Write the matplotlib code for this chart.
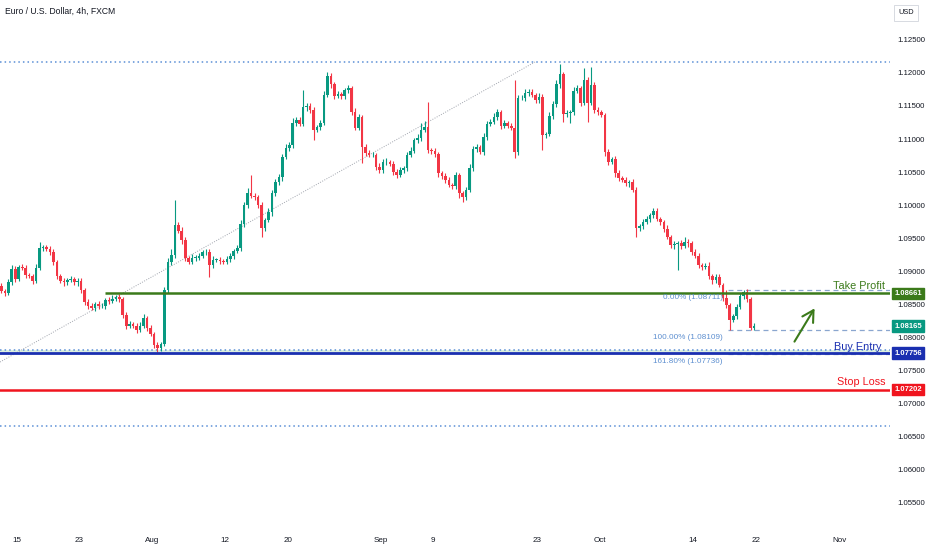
import matplotlib
matplotlib.use("Agg")
import matplotlib.pyplot as plt
from matplotlib import transforms

plt.rcParams['font.family'] = ['Liberation Sans', 'DejaVu Sans']

# ---------------- data ----------------
# x unit = trading day, 0 = Jul 15; three candles per day, first candle starts Jul 11 (2nd third)
start_day = -1.6667
per_day = 3

closes = [
    1.0870, 1.0867, 1.0883, 1.0903, 1.0888, 1.0906, 1.0905, 1.0894, 1.0892, 1.0885,
    1.0905, 1.0935, 1.0936, 1.0933, 1.0929, 1.0914, 1.0892, 1.0885, 1.0883, 1.0886,
    1.0888, 1.0883, 1.0885, 1.0871, 1.0853, 1.0847, 1.0844, 1.0850, 1.0847, 1.0847,
    1.0856, 1.0855, 1.0858, 1.0861, 1.0858, 1.0833, 1.0817, 1.0820, 1.0817, 1.0811,
    1.0817, 1.0829, 1.0814, 1.0805, 1.0788, 1.0783, 1.0789, 1.0871, 1.0914, 1.0924,
    1.0970, 1.0961, 1.0947, 1.0920, 1.0914, 1.0920, 1.0920, 1.0923, 1.0929, 1.0929,
    1.0909, 1.0917, 1.0917, 1.0915, 1.0914, 1.0918, 1.0923, 1.0930, 1.0935, 1.0971,
    1.1000, 1.1018, 1.1014, 1.1012, 1.1000, 1.0965, 1.0977, 1.0989, 1.1018, 1.1035,
    1.1042, 1.1073, 1.1086, 1.1091, 1.1124, 1.1129, 1.1123, 1.1148, 1.1150, 1.1144,
    1.1114, 1.1118, 1.1124, 1.1167, 1.1195, 1.1183, 1.1165, 1.1168, 1.1165, 1.1174,
    1.1177, 1.1141, 1.1117, 1.1133, 1.1088, 1.1079, 1.1076, 1.1076, 1.1058, 1.1053,
    1.1065, 1.1065, 1.1062, 1.1050, 1.1045, 1.1053, 1.1056, 1.1076, 1.1082, 1.1098,
    1.1102, 1.1114, 1.1118, 1.1083, 1.1082, 1.1077, 1.1048, 1.1044, 1.1038, 1.1030,
    1.1029, 1.1045, 1.1018, 1.1012, 1.1023, 1.1056, 1.1085, 1.1088, 1.1080, 1.1103,
    1.1123, 1.1126, 1.1133, 1.1141, 1.1120, 1.1124, 1.1120, 1.1117, 1.1080, 1.1162,
    1.1162, 1.1170, 1.1171, 1.1167, 1.1159, 1.1164, 1.1106, 1.1108, 1.1135, 1.1153,
    1.1183, 1.1198, 1.1138, 1.1139, 1.1141, 1.1173, 1.1177, 1.1155, 1.1189, 1.1155,
    1.1182, 1.1144, 1.1141, 1.1136, 1.1080, 1.1065, 1.1070, 1.1048, 1.1041, 1.1038,
    1.1033, 1.1035, 1.1023, 1.0965, 1.0968, 1.0974, 1.0979, 1.0985, 1.0991, 1.0979,
    1.0974, 1.0964, 1.0952, 1.0939, 1.0941, 1.0942, 1.0938, 1.0944, 1.0942, 1.0929,
    1.0923, 1.0909, 1.0906, 1.0908, 1.0892, 1.0886, 1.0891, 1.0879, 1.0859, 1.0848,
    1.0826, 1.0832, 1.0845, 1.0862, 1.0868, 1.0858, 1.0814, 1.08165,
]
first_open = 1.0878

# wick lengths in pips above max(open, close) / below min(open, close)
upper_wick = [
    4, 3, 5, 6, 4, 3, 5, 4, 3, 4,   5, 9, 4, 3, 5, 4, 3, 4, 5, 3,
    4, 3, 5, 4, 3, 5, 4, 3, 4, 5,   3, 4, 5, 3, 4, 3, 5, 4, 3, 4,
    5, 6, 3, 4, 3, 4, 3, 5, 6, 10,  38, 5, 5, 4, 3, 6, 4, 5, 3, 4,
    4, 5, 3, 4, 3, 4, 5, 3, 4, 6,   5, 8, 27, 4, 3, 5, 4, 6, 5, 4,
    5, 4, 6, 5, 8, 4, 5, 26, 4, 5,  4, 3, 5, 6, 7, 5, 4, 5, 3, 4,
    5, 4, 6, 5, 3, 4, 5, 4, 3, 5,   4, 6, 3, 4, 5, 4, 3, 5, 6, 4,
    5, 10, 10, 38, 4, 5, 3, 4, 5, 4, 3, 5, 4, 3, 5, 6, 4, 5, 3, 6,
    4, 5, 6, 4, 3, 5, 4, 5, 72, 5,  4, 6, 5, 4, 3, 5, 4, 3, 6, 5,
    6, 16, 4, 5, 3, 6, 5, 4, 19, 5, 27, 4, 5, 3, 4, 5, 3, 4, 5, 3,
    4, 3, 5, 4, 3, 5, 4, 3, 4, 5,   3, 4, 5, 3, 4, 3, 5, 8, 4, 3,
    4, 5, 3, 4, 5, 3, 4, 5, 3, 12,  4, 3, 5, 4, 3, 5, 3, 4,
]
lower_wick = [
    4, 5, 3, 4, 5, 3, 4, 5, 3, 4,   3, 4, 5, 3, 4, 5, 4, 3, 5, 4,
    3, 4, 5, 4, 5, 4, 3, 5, 4, 3,   4, 5, 3, 4, 5, 4, 5, 3, 4, 5,
    4, 3, 5, 4, 5, 5, 4, 3, 4, 5,   4, 3, 6, 5, 4, 3, 5, 4, 3, 4,
    18, 4, 3, 5, 4, 3, 4, 5, 3, 4,  5, 4, 3, 5, 4, 13, 4, 3, 5, 4,
    4, 5, 3, 4, 5, 4, 3, 4, 5, 4,   16, 4, 5, 3, 4, 5, 4, 3, 5, 4,
    4, 5, 4, 3, 25, 5, 4, 3, 5, 4,  5, 4, 3, 5, 4, 3, 4, 5, 4, 3,
    4, 5, 3, 4, 5, 4, 6, 5, 4, 3,   5, 4, 8, 7, 4, 3, 5, 4, 3, 4,
    5, 4, 3, 4, 5, 4, 3, 4, 9, 4,   3, 4, 5, 3, 4, 5, 23, 4, 3, 4,
    4, 5, 12, 4, 14, 4, 3, 5, 4, 29, 4, 5, 4, 3, 5, 4, 3, 5, 4, 3,
    4, 5, 3, 13, 4, 4, 3, 5, 4, 3,  4, 5, 3, 4, 5, 40, 4, 3, 5, 4,
    3, 4, 5, 3, 4, 5, 4, 3, 5, 4,   15, 4, 5, 3, 4, 5, 3, 3,
]

# date ticks (trading-day index) and labels
tick_days = [0, 6, 13, 20, 26, 35, 40, 50, 56, 65, 71, 79]
tick_labels = ['15', '23', 'Aug', '12', '20', 'Sep', '9', '23', 'Oct', '14', '22', 'Nov']
price_ticks = [1.055, 1.060, 1.065, 1.070, 1.075, 1.080, 1.085, 1.090, 1.095,
               1.100, 1.105, 1.110, 1.115, 1.120, 1.125]

# levels
take_profit = 1.08661
buy_entry = 1.07756
stop_loss = 1.07202
last_price = 1.08165
resist_top = 1.12165
support_low = 1.0665
support_zone = 1.0780
fib_levels = [1.08711, 1.08109, 1.07736]
fib_names = ['0.00% (1.08711)', '100.00% (1.08109)', '161.80% (1.07736)']
trend_start = (-1.634, 1.07621)
trend_end = (49.78, 1.12167)
arrow_from = (74.58, 1.07894)
arrow_to = (76.79, 1.08470)

# ---------------- colors ----------------
UP = '#089981'
DOWN = '#f23645'
GREEN = '#3b7a1a'
BLUE = '#1a2fb0'
RED = '#f0141e'
DOTBLUE = '#5b8fd6'
FIBCOL = '#5d8fd0'
TXT = '#131722'

fig = plt.figure(figsize=(9.32, 5.5), dpi=100)
ax = fig.add_axes([0, 20 / 550, 890 / 932, 530 / 550])
ax.set_xlim(-1.634, 83.9)
ax.set_ylim(1.05076, 1.13106)

# ---------------- candles ----------------
opens = [first_open] + closes[:-1]
xs = [start_day + (i + 0.5) / per_day for i in range(len(closes))]
for x, o, c, uw, lw_ in zip(xs, opens, closes, upper_wick, lower_wick):
    col = UP if c >= o else DOWN
    hi = max(o, c) + uw / 10000
    lo = min(o, c) - lw_ / 10000
    ax.vlines(x, lo, hi, color=col, lw=0.8, zorder=3)
    ax.bar(x, max(abs(c - o), 0.00005), bottom=min(o, c), width=0.25,
           color=col, linewidth=0, zorder=4)

# ---------------- horizontal levels ----------------
ax.axhline(resist_top, color=DOTBLUE, lw=1.1, ls=(0, (1, 2)), zorder=2)
ax.axhline(support_low, color=DOTBLUE, lw=1.1, ls=(0, (1, 2)), zorder=2)
ax.axhspan(buy_entry + 0.0001, support_zone, color='#dcefe0', lw=0, zorder=1)
ax.axhline(support_zone, color=DOTBLUE, lw=1.1, ls=(0, (1, 2)), zorder=2)
ax.hlines(take_profit, 8.46, 83.9, color=GREEN, lw=1.8, zorder=5)
ax.axhline(buy_entry, color=BLUE, lw=2.0, zorder=5)
ax.axhline(stop_loss, color=RED, lw=1.8, zorder=5)

# fib retracement
for lvl, name in zip(fib_levels, fib_names):
    ax.hlines(lvl, 68.33, 83.9, color='#8aa6cf', lw=0.9, ls=(0, (4, 3)), zorder=2)
    ax.text(67.85, lvl - 0.0011, name, color=FIBCOL, fontsize=5.9,
            ha='right', va='center', zorder=6)

# diagonal trend line
ax.plot([trend_start[0], trend_end[0]], [trend_start[1], trend_end[1]],
        color='#a0a4ad', lw=0.7, ls=(0, (1, 1.5)), zorder=2)

# arrow
ax.annotate('', xy=arrow_to, xytext=arrow_from,
            arrowprops=dict(arrowstyle='->,head_length=0.8,head_width=0.45',
                            color=GREEN, lw=1.5), zorder=6)

# level names
ax.text(83.42, 1.08773, 'Take Profit', color=GREEN, fontsize=7.8, ha='right', va='center')
ax.text(83.13, 1.07848, 'Buy Entry', color=BLUE, fontsize=7.8, ha='right', va='center')
ax.text(83.42, 1.07318, 'Stop Loss', color=RED, fontsize=7.8, ha='right', va='center')

# ---------------- axes styling ----------------
for s in ax.spines.values():
    s.set_visible(False)
ax.yaxis.tick_right()
ax.set_yticks(price_ticks)
ax.set_yticklabels([f'{p:.5f}' for p in price_ticks])
ax.tick_params(axis='y', length=0, pad=5, labelsize=5.6, labelcolor=TXT)
ax.set_xticks(tick_days)
ax.set_xticklabels(tick_labels)
ax.tick_params(axis='x', length=0, pad=5, labelsize=5.8, labelcolor=TXT)

# price boxes on the right scale
trans = transforms.blended_transform_factory(ax.transAxes, ax.transData)
for val, col in [(take_profit, GREEN), (last_price, UP), (buy_entry, BLUE), (stop_loss, RED)]:
    ax.text(1.0205, val, f'{val:.5f}', transform=trans, color='white', fontsize=5.5,
            fontweight='bold', ha='center', va='center', clip_on=False, zorder=10,
            bbox=dict(boxstyle='square,pad=0.3', fc=col, ec=col))

# title and currency box
fig.text(5 / 932, 1 - 11 / 550, 'Euro / U.S. Dollar, 4h, FXCM', fontsize=6.2,
         color=TXT, ha='left', va='center')
fig.text(906 / 932, 1 - 13 / 550, 'USD', fontsize=5.3, color=TXT, ha='center', va='center',
         bbox=dict(boxstyle='square,pad=0.6', fc='white', ec='#d1d4dc', lw=0.6))

fig.savefig('out.png', dpi=100, facecolor='white')
